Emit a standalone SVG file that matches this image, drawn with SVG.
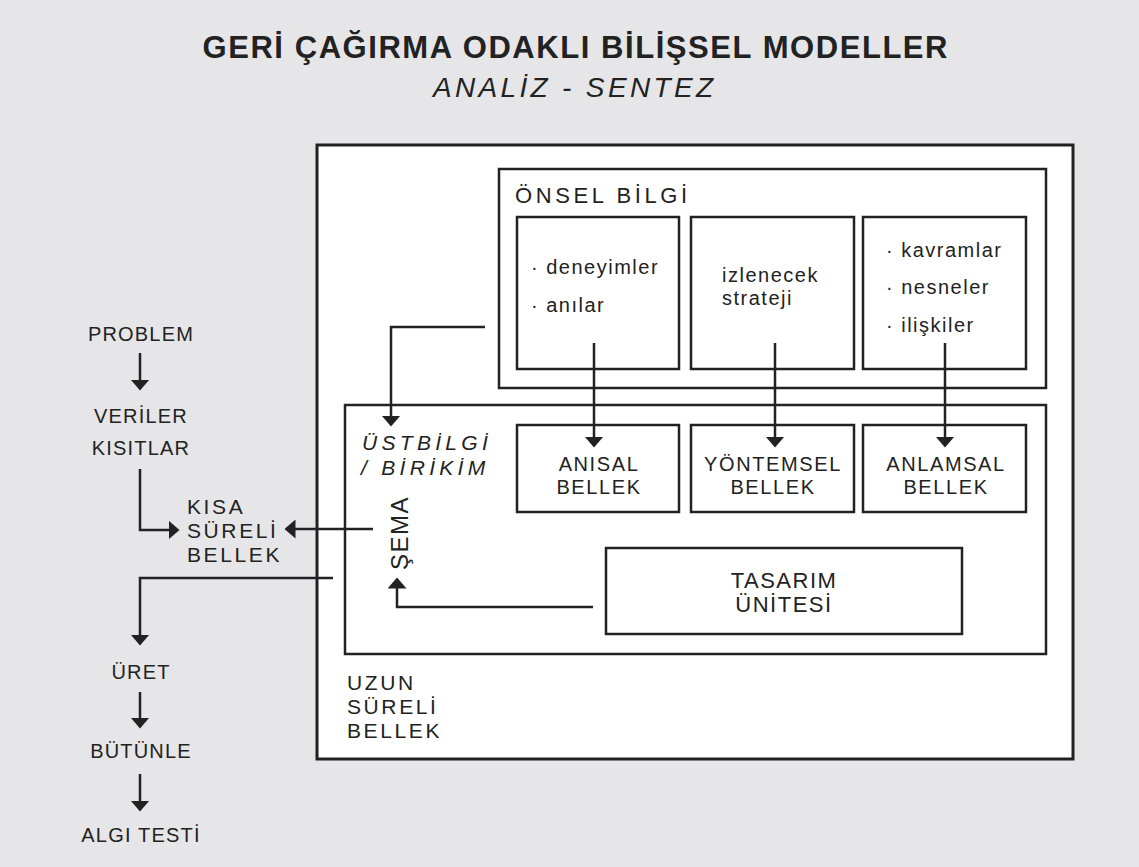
<svg xmlns="http://www.w3.org/2000/svg" width="1139" height="867" viewBox="0 0 1139 867">
<style>
text{font-family:"Liberation Sans",Arial,sans-serif;fill:#222;}
.box{fill:#fff;stroke:#222;stroke-width:2.5;}
.outer{fill:#fff;stroke:#222;stroke-width:3;}
.ln{fill:none;stroke:#222;stroke-width:2.5;}
.lft{font-size:20px;letter-spacing:1.2px;text-anchor:middle;}
.mem{font-size:21px;letter-spacing:2.6px;}
.itm{font-size:20px;letter-spacing:1.5px;}
.bm{font-size:20px;letter-spacing:1.6px;text-anchor:middle;}
.it{font-size:21px;font-style:italic;letter-spacing:4.3px;}
</style>
<defs>
<marker id="ah" viewBox="0 0 11 19" refX="5.5" refY="9.5" markerWidth="11" markerHeight="19" markerUnits="userSpaceOnUse" orient="auto">
<path d="M0,0 L11,9.5 L0,19 z" fill="#222"/>
</marker>
</defs>
<rect x="0" y="0" width="1139" height="867" fill="#e6e6e8"/>

<g id="title">
<text x="575" y="58" font-size="31" font-weight="bold" text-anchor="middle" textLength="745">GERİ ÇAĞIRMA ODAKLI BİLİŞSEL MODELLER</text>
<text x="573" y="97" font-size="28" font-style="italic" text-anchor="middle" textLength="280">ANALİZ - SENTEZ</text>
</g>

<g id="uzun-sureli-bellek">
<rect class="outer" x="317" y="145" width="756" height="614"/>
<text class="mem" x="347" y="690">UZUN</text>
<text class="mem" x="347" y="714">SÜRELİ</text>
<text class="mem" x="347" y="738">BELLEK</text>
</g>

<g id="onsel-bilgi">
<rect class="box" x="499" y="169" width="547" height="219"/>
<text x="515" y="203" font-size="22" letter-spacing="3.6">ÖNSEL BİLGİ</text>
</g>
<g id="deneyimler">
<rect class="box" x="517" y="217" width="162" height="152"/>
<text class="itm" x="531" y="274">· deneyimler</text>
<text class="itm" x="531" y="312">· anılar</text>
</g>
<g id="strateji">
<rect class="box" x="691" y="217" width="163" height="152"/>
<text class="itm" x="722" y="282">izlenecek</text>
<text class="itm" x="722" y="305">strateji</text>
</g>
<g id="kavramlar">
<rect class="box" x="863" y="217" width="163" height="152"/>
<text class="itm" x="886" y="257">· kavramlar</text>
<text class="itm" x="886" y="294">· nesneler</text>
<text class="itm" x="886" y="332">· ilişkiler</text>
</g>

<g id="ustbilgi">
<rect class="box" x="345" y="405" width="701" height="249"/>
<text class="it" x="362" y="450">ÜSTBİLGİ</text>
<text class="it" x="361" y="475">/ BİRİKİM</text>
<text x="408" y="570" font-size="24" letter-spacing="1.5" transform="rotate(-90 408 570)">ŞEMA</text>
</g>
<g id="anisal">
<rect class="box" x="517" y="425" width="162" height="87"/>
<text class="bm" x="599" y="471">ANISAL</text>
<text class="bm" x="599" y="494">BELLEK</text>
</g>
<g id="yontemsel">
<rect class="box" x="691" y="425" width="163" height="87"/>
<text class="bm" x="773" y="471">YÖNTEMSEL</text>
<text class="bm" x="773" y="494">BELLEK</text>
</g>
<g id="anlamsal">
<rect class="box" x="863" y="425" width="163" height="87"/>
<text class="bm" x="946" y="471">ANLAMSAL</text>
<text class="bm" x="946" y="494">BELLEK</text>
</g>
<g id="tasarim">
<rect class="box" x="606" y="548" width="356" height="86"/>
<text x="784" y="588" font-size="22" letter-spacing="1.5" text-anchor="middle">TASARIM</text>
<text x="784" y="612" font-size="22" letter-spacing="1.5" text-anchor="middle">ÜNİTESİ</text>
</g>

<g id="left-labels">
<text class="lft" x="141" y="341">PROBLEM</text>
<text class="lft" x="141" y="423">VERİLER</text>
<text class="lft" x="141" y="455">KISITLAR</text>
<text class="mem" x="187" y="514">KISA</text>
<text class="mem" x="187" y="538">SÜRELİ</text>
<text class="mem" x="187" y="562">BELLEK</text>
<text class="lft" x="141" y="679">ÜRET</text>
<text class="lft" x="141" y="758">BÜTÜNLE</text>
<text class="lft" x="141" y="842">ALGI TESTİ</text>
</g>

<g id="connectors">
<path class="ln" d="M594,343 V442" marker-end="url(#ah)"/>
<path class="ln" d="M775,343 V442" marker-end="url(#ah)"/>
<path class="ln" d="M945,343 V442" marker-end="url(#ah)"/>
<path class="ln" d="M485,327 H391 V421" marker-end="url(#ah)"/>
<path class="ln" d="M593,607 H397 V583" marker-end="url(#ah)"/>
<path class="ln" d="M373,529 H290" marker-end="url(#ah)"/>
<path class="ln" d="M140,469 V530 H174" marker-end="url(#ah)"/>
<path class="ln" d="M333,578 H140 V640" marker-end="url(#ah)"/>
<path class="ln" d="M140,353 V385" marker-end="url(#ah)"/>
<path class="ln" d="M140,692 V723" marker-end="url(#ah)"/>
<path class="ln" d="M140,774 V806" marker-end="url(#ah)"/>
</g>
</svg>
